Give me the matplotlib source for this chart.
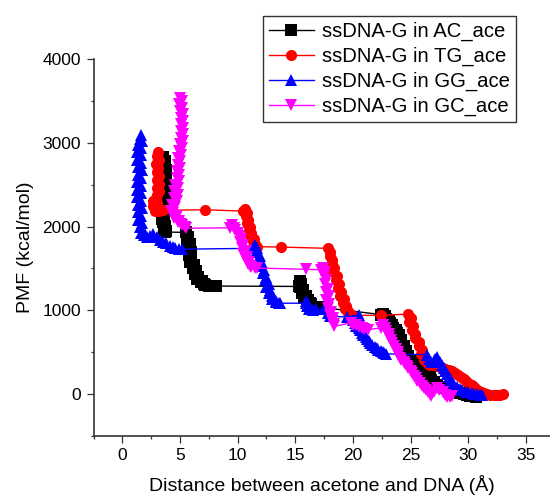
import matplotlib.pyplot as plt
from matplotlib.ticker import MultipleLocator

plt.rcParams['font.family'] = ['Liberation Sans', 'DejaVu Sans']

labels = ["ssDNA-G in AC_ace", "ssDNA-G in TG_ace", "ssDNA-G in GG_ace", "ssDNA-G in GC_ace"]

# ssDNA-G in AC_ace
ac_x = [3.5, 3.7, 3.6, 3.8, 3.6, 3.8, 3.7, 3.9, 3.7, 3.8, 3.7, 3.5, 3.6, 3.4, 3.5, 3.7, 3.6, 3.8, 3.7,
        5.5, 5.7, 5.6, 5.9, 5.8, 6.0, 5.8, 6.0, 5.9, 6.2, 6.1, 6.4, 6.3, 6.6, 6.5, 6.9, 6.8, 7.1, 7.2,
        7.5, 7.6, 7.9, 8.1,
        15.3, 15.4, 15.5, 15.4, 15.7, 15.6, 15.9, 15.8, 16.1, 16.0, 16.3, 16.4, 17.0,
        22.4, 22.6, 22.8, 22.9, 23.1, 23.2, 23.4, 23.5, 23.7, 23.8, 24.0, 24.0, 24.2, 24.2, 24.4,
        24.4, 24.6, 24.6, 24.8, 24.8, 25.0, 25.3, 25.6, 25.9, 26.2, 26.4, 26.5, 26.6, 26.7, 26.8,
        27.0, 27.3, 27.8, 28.1, 28.4, 28.7, 29.0, 29.3, 29.6, 29.9, 30.2, 30.5, 30.7]
ac_y = [2830, 2780, 2730, 2670, 2610, 2550, 2490, 2430, 2375, 2315, 2255, 2195, 2135, 2090, 2050, 2010, 1980, 1950, 1935,
        1930, 1880, 1840, 1790, 1740, 1700, 1660, 1615, 1575, 1540, 1505, 1470, 1430, 1400, 1370, 1350, 1335, 1310, 1300,
        1290, 1290, 1295, 1290,
        1285, 1350, 1310, 1275, 1240, 1205, 1175, 1145, 1120, 1100, 1085, 1075, 1040,
        950, 960, 930, 900, 880, 850, 820, 790, 760, 730, 700, 670, 640, 610, 580,
        550, 520, 490, 460, 430, 400, 380, 340, 300, 280, 300, 260, 230, 200, 170,
        140, 110, 80, 70, 55, 45, 30, 15, 0, -10, -20, -25, -30]

# ssDNA-G in TG_ace
tg_x = [3.1, 3.0, 3.2, 2.9, 3.1, 3.0, 3.2, 3.0, 3.2, 3.0, 3.2, 3.0, 2.9, 2.7, 3.0, 2.7, 3.0, 2.8, 3.2, 3.5,
        7.2, 10.5, 10.6, 10.8, 10.7, 10.9, 10.8, 11.1, 11.0, 11.2, 11.1, 11.4, 11.3, 11.5, 11.5, 11.7,
        13.8, 17.8, 18.0, 18.0, 18.2, 18.2, 18.4, 18.3, 18.6, 18.5, 18.8, 18.7, 19.0, 18.9, 19.2, 19.1,
        19.4, 19.3, 19.6, 19.6, 19.9,
        22.4, 24.8, 25.0, 24.9, 25.2, 25.1, 25.4, 25.4, 25.7, 25.7, 26.0, 25.9, 26.2, 26.2, 26.5, 26.5,
        26.7, 26.9, 27.1, 27.3, 27.6, 27.8, 28.0, 28.3, 28.6, 28.9, 29.1, 29.4, 29.6, 29.8, 30.0, 30.3,
        30.5, 30.7, 30.9, 31.1, 31.4, 31.6, 31.9, 32.2, 32.4, 32.6, 32.8, 33.0]
tg_y = [2890, 2840, 2800, 2750, 2700, 2650, 2600, 2550, 2505, 2460, 2420, 2380, 2340, 2300, 2280, 2240, 2220, 2190, 2185, 2195,
        2200, 2185, 2205, 2165, 2125, 2080, 2040, 2000, 1955, 1920, 1885, 1855, 1825, 1795, 1765, 1760,
        1755, 1740, 1700, 1645, 1600, 1550, 1500, 1455, 1410, 1360, 1310, 1265, 1220, 1170, 1130, 1085,
        1050, 1015, 990, 965, 940,
        940, 955, 910, 860, 815, 765, 720, 670, 620, 575, 525, 475, 440, 405, 380, 360,
        350, 345, 345, 335, 325, 310, 300, 285, 270, 250, 230, 205, 180, 155, 130, 105,
        85, 60, 40, 25, 10, 0, -5, -10, -10, -10, -5, 0]

# ssDNA-G in GG_ace
gg_x = [1.6, 1.5, 1.7, 1.4, 1.6, 1.3, 1.6, 1.3, 1.6, 1.4, 1.7, 1.4, 1.6, 1.3, 1.6, 1.3, 1.6, 1.3, 1.6, 1.4,
        1.7, 1.4, 1.6, 1.4, 1.7, 1.5, 1.8, 1.6, 1.9, 2.1, 2.4, 2.7, 3.0, 3.3, 3.5, 3.8, 4.1, 4.4, 4.6, 4.9, 5.2,
        11.3, 11.5, 11.7, 11.6, 11.9, 11.8, 12.1, 12.0, 12.3, 12.2, 12.5, 12.4, 12.7, 12.5, 12.8, 12.7,
        13.0, 13.0, 13.3, 13.3, 13.6, 13.7,
        15.9, 15.9, 16.1, 16.0, 16.3, 16.2, 16.5, 16.8, 17.5, 17.8, 18.0, 19.5, 20.5,
        20.0, 20.2, 20.3, 20.5, 20.6, 20.8, 20.9, 21.1, 21.2, 21.4, 21.5, 21.7, 21.9, 22.1, 22.2, 22.4,
        22.6, 22.7, 22.9,
        26.4, 26.6, 26.8, 27.0, 27.1, 27.3, 27.4, 27.6, 27.7, 27.9, 28.0, 28.2, 28.3, 28.5, 28.6, 28.8,
        29.0, 29.3, 29.5, 29.8, 30.0, 30.3, 30.5, 30.8, 31.0, 31.2]
gg_y = [3090, 3050, 3020, 2970, 2940, 2890, 2850, 2800, 2760, 2710, 2670, 2620, 2580, 2530, 2490, 2440, 2400, 2350, 2310, 2260,
        2220, 2170, 2130, 2080, 2040, 1990, 1960, 1920, 1900, 1880, 1890, 1910, 1880, 1840, 1820, 1800, 1770, 1760, 1740, 1735, 1730,
        1740, 1780, 1740, 1695, 1650, 1610, 1570, 1525, 1485, 1445, 1400, 1360, 1320, 1275, 1240, 1205,
        1170, 1135, 1115, 1100, 1090, 1085,
        1085, 1110, 1080, 1050, 1030, 1010, 1000, 1010, 1020, 965, 930, 920, 940,
        880, 845, 815, 785, 760, 730, 705, 680, 655, 630, 605, 585, 565, 550, 530, 515,
        500, 490, 480,
        470, 420, 380, 400, 420, 440, 410, 380, 345, 310, 275, 240, 205, 170, 140, 110,
        85, 60, 45, 30, 20, 10, 5, 0, -5, -10]

# ssDNA-G in GC_ace
gc_x = [5.0, 5.2, 4.9, 5.2, 5.0, 5.3, 5.1, 5.3, 5.1, 5.3, 5.1, 5.3, 5.1, 5.3, 5.0, 5.2, 4.9, 5.1, 4.8, 5.0,
        4.8, 5.0, 4.7, 4.9, 4.7, 4.9, 4.6, 4.8, 4.5, 4.8, 4.5, 4.7, 4.3, 4.6, 4.2, 4.4, 4.7, 4.5, 4.9, 4.8,
        5.1, 5.2, 5.4, 5.5,
        9.3, 9.5, 9.7, 9.8, 10.0, 10.1, 10.3, 10.2, 10.5, 10.4, 10.7, 10.5, 10.8, 10.7, 11.0, 10.9, 11.1,
        11.2, 11.5, 11.7,
        15.9, 17.2, 17.4, 17.6, 17.5, 17.7, 17.6, 17.8, 17.7, 17.9, 17.7, 17.9, 17.8, 18.1, 18.0, 18.3,
        18.2, 18.4, 18.4,
        19.8, 20.0, 20.3, 20.5, 20.8, 21.0, 21.3, 22.4,
        22.6, 22.8, 22.9, 23.1, 23.1, 23.3, 23.4, 23.6, 23.7, 23.9, 23.9, 24.1, 24.2, 24.4, 24.5, 24.7,
        24.8, 25.0, 25.1, 25.3, 25.5, 25.6, 25.8, 26.0, 26.2, 26.3, 26.5, 26.7, 26.8,
        27.0, 27.3, 27.5, 27.8, 28.0, 28.2, 28.4, 28.6]
gc_y = [3530, 3500, 3460, 3420, 3380, 3340, 3300, 3260, 3220, 3180, 3140, 3100, 3060, 3020, 2980, 2940, 2900, 2860, 2820, 2780,
        2740, 2700, 2660, 2620, 2580, 2540, 2500, 2460, 2420, 2380, 2340, 2300, 2260, 2230, 2190, 2160, 2130, 2100, 2070, 2050,
        2030, 2015, 1995, 1980,
        1985, 2015, 1985, 1955, 1920, 1885, 1850, 1815, 1780, 1740, 1705, 1670, 1640, 1610, 1580, 1550, 1530,
        1515, 1510, 1505,
        1490, 1485, 1505, 1460, 1410, 1360, 1310, 1260, 1215, 1170, 1120, 1070, 1025, 985, 940, 905,
        870, 840, 810,
        850, 830, 820, 800, 790, 780, 770, 790,
        825, 785, 750, 715, 680, 645, 610, 570, 535, 500, 465, 435, 405, 380, 360, 335,
        310, 280, 250, 220, 190, 160, 130, 100, 70, 45, 25, 0, -25,
        20, 70, 45, 25, -5, -35, -30, -25]

series = [(ac_x, ac_y, 'black', 's'),
          (tg_x, tg_y, 'red', 'o'),
          (gg_x, gg_y, 'blue', '^'),
          (gc_x, gc_y, 'magenta', 'v')]

fig = plt.figure(figsize=(5.5, 5), dpi=100)
ax = fig.add_axes([0.17, 0.128, 0.83, 0.754])

for (xs, ys, color, marker), label in zip(series, labels):
    ax.plot(xs, ys, color=color, marker=marker, markersize=8, linewidth=1,
            markeredgewidth=0, label=label)

ax.set_xlim(-2.5, 37.1)
ax.set_ylim(-500, 4000)
ax.xaxis.set_major_locator(MultipleLocator(5))
ax.xaxis.set_minor_locator(MultipleLocator(2.5))
ax.yaxis.set_major_locator(MultipleLocator(1000))
ax.yaxis.set_minor_locator(MultipleLocator(500))

for side in ['top', 'right']:
    ax.spines[side].set_visible(False)
for side in ['left', 'bottom']:
    ax.spines[side].set_color('#333333')
    ax.spines[side].set_linewidth(1.2)

ax.tick_params(which='major', direction='out', length=5, width=0.9, color='#333333',
               labelsize=12.5, pad=4)
ax.tick_params(which='minor', direction='out', length=2.5, width=0.9, color='#333333')

ax.set_xlabel('Distance between acetone and DNA (Å)', fontsize=14, labelpad=8)
ax.set_ylabel('PMF (kcal/mol)', fontsize=14, labelpad=6)

leg = ax.legend(loc='upper left', bbox_to_anchor=(0.478, 0.968), bbox_transform=fig.transFigure,
                borderaxespad=0, fontsize=14.6, numpoints=1, handlelength=2.2, handletextpad=0.4,
                labelspacing=0.28, borderpad=0.3, fancybox=False, framealpha=1, markerscale=1.0)
leg.get_frame().set_edgecolor('#333333')
leg.get_frame().set_linewidth(1.0)

fig.savefig('out.png', dpi=100)
